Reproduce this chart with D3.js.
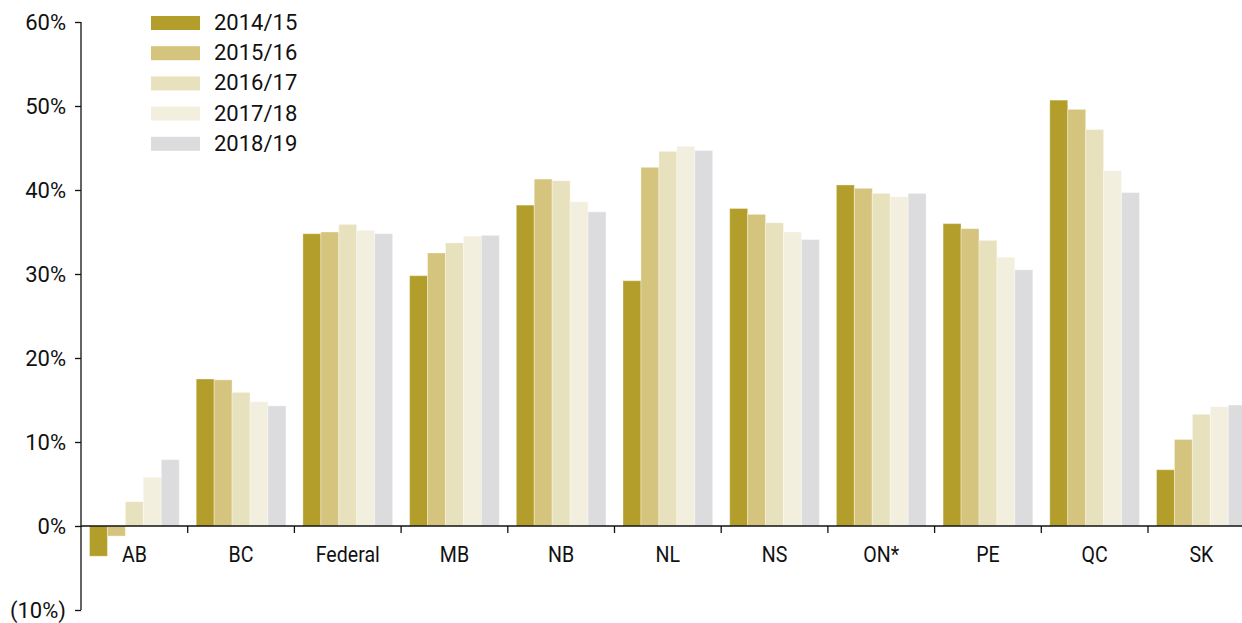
<!DOCTYPE html>
<html>
<head>
<meta charset="utf-8">
<script src="https://cdn.jsdelivr.net/npm/d3@7"></script>
<style>
  body { margin: 0; background: #fff; }
  text { fill: #111; }
</style>
</head>
<body>
<div id="chart"></div>
<script>
var categories = ["AB", "BC", "Federal", "MB", "NB", "NL", "NS", "ON*", "PE", "QC", "SK"];
var years = ["2014/15", "2015/16", "2016/17", "2017/18", "2018/19"];
var colors = ["#b49e2b", "#d5c47d", "#e8e1be", "#f2efdf", "#dcdcde"];

// percentages per year, one value for each category
var v1415 = [-3.6, 17.5, 34.8, 29.8, 38.2, 29.2, 37.8, 40.6, 36.0, 50.7, 6.7];
var v1516 = [-1.2, 17.4, 35.0, 32.5, 41.3, 42.7, 37.1, 40.2, 35.4, 49.6, 10.3];
var v1617 = [2.9, 15.9, 35.9, 33.7, 41.1, 44.6, 36.1, 39.6, 34.0, 47.2, 13.3];
var v1718 = [5.8, 14.8, 35.2, 34.5, 38.6, 45.2, 35.0, 39.2, 32.0, 42.3, 14.2];
var v1819 = [7.9, 14.3, 34.8, 34.6, 37.4, 44.7, 34.1, 39.6, 30.5, 39.7, 14.4];
var series = [v1415, v1516, v1617, v1718, v1819];

var yTicks = [-10, 0, 10, 20, 30, 40, 50, 60];

var width = 1242, height = 623;
var numFont = "Roboto, 'Liberation Sans', Arial, sans-serif";

var svg = d3.select("#chart").append("svg")
    .attr("width", width)
    .attr("height", height);

var x0 = d3.scaleBand()
    .domain(categories)
    .range([81, 81 + 106.7 * categories.length])
    .padding(0);

var x1 = d3.scaleBand()
    .domain(years)
    .range([8.5, 98.2])
    .padding(0);

var y = d3.scaleLinear()
    .domain([-10, 60])
    .range([610, 22]);

// bars
var groups = svg.append("g").selectAll("g")
    .data(categories)
    .join("g")
      .attr("transform", function(d) { return "translate(" + x0(d) + ",0)"; });

groups.selectAll("rect")
    .data(function(d, i) {
      return years.map(function(yr, j) { return {year: yr, value: series[j][i], idx: j}; });
    })
    .join("rect")
      .attr("x", function(d) { return x1(d.year); })
      .attr("width", x1.bandwidth())
      .attr("y", function(d) { return y(Math.max(0, d.value)); })
      .attr("height", function(d) { return Math.abs(y(d.value) - y(0)); })
      .style("fill", function(d) { return colors[d.idx]; })
      .style("stroke", "#fff")
      .style("stroke-opacity", 0.35)
      .style("stroke-width", 1);

// y axis
var yAxis = d3.axisLeft(y)
    .tickValues(yTicks)
    .tickSize(6)
    .tickPadding(9)
    .tickFormat(function(d) { return d < 0 ? "(" + Math.abs(d) + "%)" : d + "%"; });

var gy = svg.append("g")
    .attr("transform", "translate(81,0)")
    .call(yAxis);
gy.select(".domain").attr("d", "M0," + y(60) + "V" + y(-10)).attr("stroke", "#111").attr("stroke-width", 1.3);
gy.selectAll(".tick line").attr("stroke", "#111").attr("stroke-width", 1.3);
gy.selectAll(".tick text")
    .style("font-family", numFont)
    .style("font-size", "22px")
    .attr("fill", "#111");

// x axis at zero
var gx = svg.append("g")
    .attr("transform", "translate(0," + y(0) + ")");
gx.append("line")
    .attr("x1", 81).attr("x2", width)
    .attr("stroke", "#111").attr("stroke-width", 1.5);
gx.selectAll(".sep")
    .data(categories.slice(1))
    .join("line")
      .attr("class", "sep")
      .attr("x1", function(d) { return x0(d); })
      .attr("x2", function(d) { return x0(d); })
      .attr("y1", 0).attr("y2", 7)
      .attr("stroke", "#111").attr("stroke-width", 1.3);
// condensed look for the category labels
gx.selectAll(".cat")
    .data(categories)
    .join("text")
      .attr("class", "cat")
      .attr("transform", function(d) {
        return "translate(" + (x0(d) + x0.bandwidth() / 2) + ",36) scale(0.89,1)";
      })
      .attr("text-anchor", "middle")
      .style("font-family", numFont)
      .style("font-size", "22px")
      .text(function(d) { return d; });

// legend
var legend = svg.append("g").selectAll("g")
    .data(years)
    .join("g")
      .attr("transform", function(d, i) { return "translate(151," + (16 + i * 30.2) + ")"; });
legend.append("rect")
    .attr("width", 49)
    .attr("height", 14)
    .style("fill", function(d, i) { return colors[i]; });
legend.append("text")
    .attr("x", 63)
    .attr("y", 14)
    .style("font-family", numFont)
    .style("font-size", "22px")
    .text(function(d) { return d; });
</script>
</body>
</html>
